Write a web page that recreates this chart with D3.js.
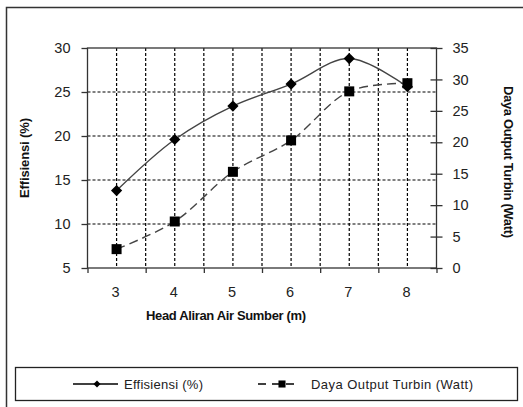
<!DOCTYPE html>
<html>
<head>
<meta charset="utf-8">
<script src="https://cdn.jsdelivr.net/npm/d3@7"></script>
<style>
  html,body{margin:0;padding:0;background:#fff;}
  svg{display:block;font-family:Arial,"Liberation Sans",sans-serif;}
</style>
</head>
<body>
<svg id="chart" width="523" height="407"></svg>
<script>
/* ---------- DATA ---------- */
const HEAD=[3,4,5,6,7,8];
const EFF=[13.8,19.6,23.4,25.9,28.8,25.6];        /* Effisiensi (%) – left axis */
const DAYA=[3.0,7.4,15.3,20.3,28.1,29.4];         /* Daya Output Turbin (Watt) – right axis */
const LEFT_TICKS=[5,10,15,20,25,30];
const RIGHT_TICKS=[0,5,10,15,20,25,30,35];
const X_LABEL="Head Aliran Air Sumber (m)";
const YL_LABEL="Effisiensi (%)";
const YR_LABEL="Daya Output Turbin (Watt)";
const LEG=["Effisiensi (%)","Daya Output Turbin (Watt)"];

/* ---------- LAYOUT ---------- */
const PL=87.5, PR=436.5, PT=48, PB=268;
const INK="#222";

const svg=d3.select("#chart");

/* outer chart border (cropped on right/bottom) */
svg.append("rect").attr("x",6.5).attr("y",7.5).attr("width",530).attr("height",420)
   .attr("fill","none").attr("stroke","#333").attr("stroke-width",1.5);

const x=d3.scaleLinear().domain([2.5,8.5]).range([PL,PR]);
const yL=d3.scaleLinear().domain([5,30]).range([PB,PT]);
const yR=d3.scaleLinear().domain([0,35]).range([PB,PT]);

/* ---------- GRID ---------- */
const vGrid=d3.range(3,8.01,0.5);
svg.append("g").selectAll("line").data(vGrid).enter().append("line")
   .attr("x1",d=>x(d)).attr("x2",d=>x(d)).attr("y1",PT).attr("y2",PB)
   .attr("stroke","#000").attr("stroke-width",1.2).attr("stroke-dasharray","3,2");
svg.append("g").selectAll("line").data(LEFT_TICKS.slice(1,-1)).enter().append("line")
   .attr("x1",PL).attr("x2",PR).attr("y1",d=>yL(d)).attr("y2",d=>yL(d))
   .attr("stroke","#000").attr("stroke-width",1.2).attr("stroke-dasharray","3,2");

/* plot box */
svg.append("rect").attr("x",PL).attr("y",PT).attr("width",PR-PL).attr("height",PB-PT)
   .attr("fill","none").attr("stroke","#333").attr("stroke-width",1.3);

/* ---------- AXES ---------- */
const axL=svg.append("g").attr("transform",`translate(${PL},0)`)
   .call(d3.axisLeft(yL).tickValues(LEFT_TICKS).tickSize(6).tickPadding(11));
const axR=svg.append("g").attr("transform",`translate(${PR},0)`)
   .call(d3.axisRight(yR).tickValues(RIGHT_TICKS).tickSize(6).tickPadding(10));
axR.selectAll(".tick line").attr("x1",-6);
const axB=svg.append("g").attr("transform",`translate(0,${PB})`)
   .call(d3.axisBottom(x).tickValues(d3.range(2.5,8.51,1)).tickSize(5).tickFormat(""));
svg.append("g").selectAll("text").data(HEAD).enter().append("text")
   .attr("x",d=>x(d)-1).attr("y",PB+29).attr("text-anchor","middle")
   .attr("font-size",14.5).attr("fill",INK).text(d=>d);

[axL,axR,axB].forEach(a=>{
  a.select(".domain").remove();
  a.selectAll(".tick line").attr("stroke","#333").attr("stroke-width",1.3);
  a.selectAll("text").attr("font-size",14.5).attr("fill",INK).attr("font-family",null);
});

/* axis titles */
const TITLE_FONT="'Liberation Sans Narrow','Arial Narrow',Arial,sans-serif";
svg.append("text").attr("x",226).attr("y",320).attr("text-anchor","middle")
   .attr("font-family",TITLE_FONT).attr("font-weight","bold").attr("font-size",13)
   .attr("textLength",160).attr("fill","#111").text(X_LABEL);
svg.append("text").attr("transform","translate(29,158) rotate(-90)").attr("text-anchor","middle")
   .attr("font-family",TITLE_FONT).attr("font-weight","bold").attr("font-size",13)
   .attr("textLength",80).attr("fill","#111").text(YL_LABEL);
svg.append("text").attr("transform","translate(504,162) rotate(90)").attr("text-anchor","middle")
   .attr("font-family",TITLE_FONT).attr("font-weight","bold").attr("font-size",13)
   .attr("textLength",152).attr("fill","#111").text(YR_LABEL);

/* ---------- SERIES ---------- */
const curve=d3.curveCatmullRom.alpha(0.5);
const lineEff=d3.line().x((d,i)=>x(HEAD[i])).y(d=>yL(d)).curve(curve);
const lineDaya=d3.line().x((d,i)=>x(HEAD[i])).y(d=>yR(d)).curve(curve);

svg.append("path").attr("d",lineDaya(DAYA)).attr("fill","none")
   .attr("stroke","#444").attr("stroke-width",1.4).attr("stroke-dasharray","9,5");
svg.append("path").attr("d",lineEff(EFF)).attr("fill","none")
   .attr("stroke","#444").attr("stroke-width",1.4);

const diamond=d3.symbol().type(d3.symbolDiamond2).size(80);
const square=d3.symbol().type(d3.symbolSquare).size(100);

svg.append("g").selectAll("path").data(DAYA).enter().append("path")
   .attr("d",square).attr("transform",(d,i)=>`translate(${x(HEAD[i])},${yR(d)})`)
   .attr("fill","#000");
svg.append("g").selectAll("path").data(EFF).enter().append("path")
   .attr("d",diamond).attr("transform",(d,i)=>`translate(${x(HEAD[i])},${yL(d)})`)
   .attr("fill","#000");

/* ---------- LEGEND ---------- */
svg.append("rect").attr("x",15.5).attr("y",367.5).attr("width",502).attr("height",33)
   .attr("fill","#fff").attr("stroke","#222").attr("stroke-width",1.3);
const LY=384;
svg.append("line").attr("x1",73).attr("x2",118).attr("y1",LY).attr("y2",LY)
   .attr("stroke","#000").attr("stroke-width",1.3);
svg.append("path").attr("d",d3.symbol().type(d3.symbolDiamond2).size(32))
   .attr("transform",`translate(97,${LY})`).attr("fill","#000");
svg.append("line").attr("x1",258).attr("x2",294).attr("y1",LY).attr("y2",LY)
   .attr("stroke","#000").attr("stroke-width",1.3).attr("stroke-dasharray","8,6");
svg.append("path").attr("d",d3.symbol().type(d3.symbolSquare).size(50))
   .attr("transform",`translate(282,${LY})`).attr("fill","#000");
svg.append("text").attr("x",124).attr("y",LY+5).attr("font-size",13).attr("fill",INK)
   .attr("textLength",79).text(LEG[0]);
svg.append("text").attr("x",311).attr("y",LY+5).attr("font-size",13).attr("fill",INK)
   .attr("textLength",162).text(LEG[1]);
</script>
</body>
</html>
